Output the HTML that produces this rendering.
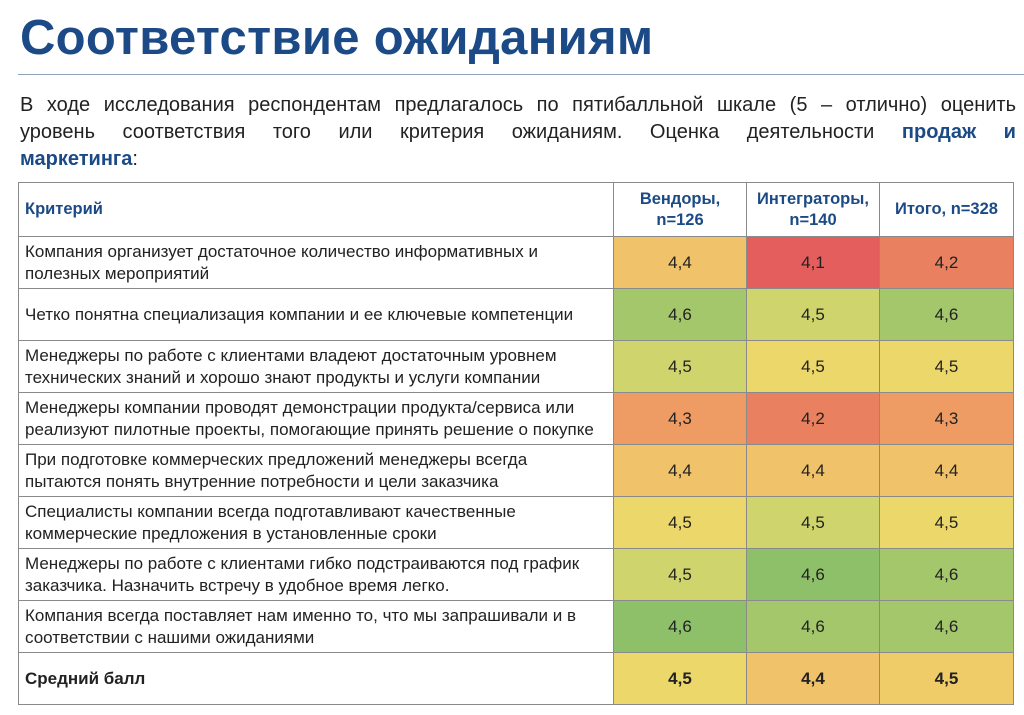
<!DOCTYPE html>
<html><head><meta charset="utf-8"><style>
body{margin:0;width:1024px;height:715px;background:#fff;font-family:"Liberation Sans",sans-serif;overflow:hidden;position:relative}
h1{position:absolute;left:20px;top:10px;margin:0;font-size:49px;line-height:56px;font-weight:bold;color:#1b4a86;letter-spacing:0.3px}
.hr{position:absolute;left:18px;top:74px;width:1006px;height:1px;background:#8fa3b8}
.p{position:absolute;left:20px;top:92px;width:996px;font-size:20px;line-height:27px;color:#222}
.p div{text-align:justify;text-align-last:justify;white-space:nowrap}
.p div.l{text-align-last:left}
.p b{color:#1b4a86}
table{position:absolute;left:18px;top:182px;border-collapse:collapse;font-size:17px;table-layout:fixed;width:995px}
td{border:1px solid #8a8a8a;padding:0;height:51px}
td.c{padding-left:6px;color:#222;line-height:22px;white-space:nowrap}
td.v{text-align:center;color:#222}
th{border:1px solid #8a8a8a;height:51px;color:#1b4a86;font-weight:bold;font-size:16.5px;line-height:21px}
.r{background:#e45e5d}.o2{background:#e9805f}.o3{background:#ee9c64}.y4{background:#f0c26a}.y5{background:#ecd86a}.g5{background:#cfd56c}.g6{background:#a4c76c}.g7{background:#8ec06a}
</style></head><body>
<h1>Соответствие ожиданиям</h1>
<div class="hr"></div>
<div class="p"><div>В ходе исследования респондентам предлагалось по пятибалльной шкале (5 – отлично) оценить</div><div>уровень соответствия того или критерия ожиданиям. Оценка деятельности <b>продаж и</b></div><div class="l"><b>маркетинга</b>:</div></div>
<table>
<colgroup><col style="width:595px"><col style="width:133px"><col style="width:133px"><col style="width:134px"></colgroup>
<tr><th style="text-align:left;padding-left:6px">Критерий</th><th>Вендоры,<br>n=126</th><th>Интеграторы,<br>n=140</th><th>Итого, n=328</th></tr>
<tr><td class="c">Компания организует достаточное количество информативных и<br>полезных мероприятий</td><td class="v y4">4,4</td><td class="v r">4,1</td><td class="v o2">4,2</td></tr>
<tr><td class="c">Четко понятна специализация компании и ее ключевые компетенции</td><td class="v g6">4,6</td><td class="v g5">4,5</td><td class="v g6">4,6</td></tr>
<tr><td class="c">Менеджеры по работе с клиентами владеют достаточным уровнем<br>технических знаний и хорошо знают продукты и услуги компании</td><td class="v g5">4,5</td><td class="v y5">4,5</td><td class="v y5">4,5</td></tr>
<tr><td class="c">Менеджеры компании проводят демонстрации продукта/сервиса или<br>реализуют пилотные проекты, помогающие принять решение о покупке</td><td class="v o3">4,3</td><td class="v o2">4,2</td><td class="v o3">4,3</td></tr>
<tr><td class="c">При подготовке коммерческих предложений менеджеры всегда<br>пытаются понять внутренние потребности и цели заказчика</td><td class="v y4">4,4</td><td class="v y4">4,4</td><td class="v y4">4,4</td></tr>
<tr><td class="c">Специалисты компании всегда подготавливают качественные<br>коммерческие предложения в установленные сроки</td><td class="v y5">4,5</td><td class="v g5">4,5</td><td class="v y5">4,5</td></tr>
<tr><td class="c">Менеджеры по работе с клиентами гибко подстраиваются под график<br>заказчика. Назначить встречу в удобное время легко.</td><td class="v g5">4,5</td><td class="v g7">4,6</td><td class="v g6">4,6</td></tr>
<tr><td class="c">Компания всегда поставляет нам именно то, что мы запрашивали и в<br>соответствии с нашими ожиданиями</td><td class="v g7">4,6</td><td class="v g6">4,6</td><td class="v g6">4,6</td></tr>
<tr><td class="c" style="font-weight:bold">Средний балл</td><td class="v y5" style="font-weight:bold">4,5</td><td class="v y4" style="font-weight:bold">4,4</td><td class="v y4" style="font-weight:bold;background:#f0cc68">4,5</td></tr>
</table>
</body></html>
